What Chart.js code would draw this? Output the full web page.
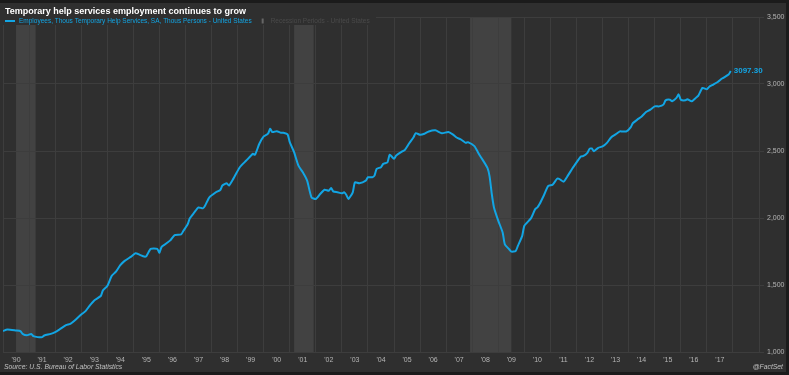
<!DOCTYPE html>
<html>
<head>
<meta charset="utf-8">
<script src="https://cdn.jsdelivr.net/npm/chart.js@4"></script>
<style>
  html, body { margin: 0; padding: 0; background: #1b1b1b; width: 789px; height: 375px; overflow: hidden; }
  #grafico { position: absolute; left: 0; top: 3px; background: #2f2f2f; }
</style>
</head>
<body>
<canvas id="grafico" width="786" height="369"></canvas>
<script>
const titulo = 'Temporary help services employment continues to grow';
const serieLabel = 'Employees, Thous Temporary Help Services, SA, Thous Persons - United States';
const recesionLabel = 'Recession Periods - United States';
const fuente = 'Source: U.S. Bureau of Labor Statistics';
const marca = '@FactSet';

const fechas = [
  '1990-01','1990-03','1990-07','1990-09','1990-10','1990-12','1991-02','1991-03','1991-05','1991-07','1991-08','1991-11',
  '1992-01','1992-03','1992-06','1992-08','1992-10','1993-01','1993-03','1993-05','1993-07','1993-10','1993-11',
  '1994-01','1994-03','1994-05','1994-07','1994-09','1994-12','1995-02','1995-04','1995-06','1995-07','1995-09','1995-12',
  '1996-01','1996-02','1996-04','1996-06','1996-08','1996-11','1996-12','1997-02','1997-03','1997-05','1997-07','1997-09','1997-10','1997-12',
  '1998-03','1998-05','1998-06','1998-08','1998-09','1998-11','1999-02','1999-05','1999-08','1999-09','1999-11',
  '2000-01','2000-03','2000-04','2000-05','2000-07','2000-09','2000-10','2000-12','2001-01','2001-03','2001-05','2001-07','2001-09','2001-11',
  '2002-01','2002-03','2002-05','2002-07','2002-08','2002-09','2002-11','2003-01','2003-02','2003-03','2003-04','2003-06','2003-07','2003-09','2003-12',
  '2004-01','2004-03','2004-04','2004-05','2004-07','2004-08','2004-10','2004-11','2005-01','2005-02','2005-05','2005-06','2005-08','2005-10','2005-11',
  '2006-01','2006-03','2006-05','2006-08','2006-11','2007-02','2007-04','2007-06','2007-08','2007-10','2007-11',
  '2008-02','2008-04','2008-05','2008-08','2008-09','2008-10','2008-11','2009-01','2009-03','2009-04','2009-06','2009-07','2009-09','2009-10','2009-12',
  '2010-01','2010-04','2010-06','2010-07','2010-08','2010-10','2010-12','2011-02','2011-04','2011-05','2011-07','2011-09','2011-11','2011-12',
  '2012-03','2012-04','2012-06','2012-07','2012-08','2012-09','2012-11','2013-01','2013-03','2013-05','2013-07','2013-09','2013-10','2013-12',
  '2014-02','2014-03','2014-05','2014-07','2014-09','2014-11','2015-01','2015-03','2015-05','2015-06','2015-08','2015-09','2015-11','2015-12',
  '2016-01','2016-03','2016-04','2016-06','2016-08','2016-09','2016-11','2017-01','2017-02','2017-04','2017-06','2017-08','2017-11','2017-12'
];
const valores = [
  1156,1168,1161,1156,1135,1125,1135,1118,1111,1111,1123,1135,
  1148,1168,1200,1210,1235,1280,1305,1348,1385,1418,1460,
  1492,1567,1600,1648,1680,1712,1737,1725,1712,1716,1770,1770,
  1740,1785,1808,1833,1873,1878,1903,1953,1998,2040,2079,2072,2092,2154,
  2192,2209,2242,2259,2242,2292,2379,2429,2479,2472,2554,
  2609,2629,2666,2641,2648,2636,2636,2624,2566,2491,2391,2341,2279,2154,
  2142,2179,2211,2204,2224,2199,2192,2184,2192,2174,2142,2192,2266,2259,2279,
  2304,2304,2316,2367,2379,2404,2416,2472,2442,2466,2499,2509,2558,2603,2633,
  2621,2629,2646,2654,2633,2641,2624,2599,2584,2561,2566,
  2536,2479,2454,2374,2309,2179,2079,1979,1892,1804,1767,1749,1754,1792,1867,
  1942,1997,2067,2079,2104,2170,2239,2248,2292,2292,2271,2316,2367,2391,
  2459,2461,2486,2516,2519,2499,2524,2534,2561,2603,2624,2646,2646,2646,
  2679,2709,2734,2758,2791,2809,2833,2833,2846,2878,2883,2871,2896,2923,
  2883,2878,2886,2871,2898,2911,2971,2961,2978,2996,3015,3041,3071,3097.30
];
const recesionInicio = ['1990-07', '2001-03', '2007-12'];
const recesionFin = ['1991-03', '2001-11', '2009-06'];
const ticksY = [1000, 1500, 2000, 2500, 3000, 3500];

const azul = '#12a5e4';
const fuenteTxt = 'Arial, "Liberation Sans", sans-serif';

// '1990-07' -> 1990.5
const aAnio = (s) => parseInt(s.slice(0, 4)) + (parseInt(s.slice(5, 7)) - 1) / 12;

const puntos = fechas.map((f, i) => ({ x: aAnio(f), y: valores[i] }));

const bandas = {
  id: 'bandas',
  beforeDraw(chart) {
    const { ctx, chartArea, scales } = chart;
    ctx.save();
    ctx.fillStyle = 'rgba(255,255,255,0.09)';
    for (let i = 0; i < recesionInicio.length; i++) {
      const x1 = scales.x.getPixelForValue(aAnio(recesionInicio[i]));
      const x2 = scales.x.getPixelForValue(aAnio(recesionFin[i]) + 1 / 12);
      ctx.fillRect(x1, chartArea.top, x2 - x1, chartArea.bottom - chartArea.top);
    }
    ctx.restore();
  }
};

const textos = {
  id: 'textos',
  afterDraw(chart) {
    const { ctx, scales } = chart;
    ctx.save();
    // caja del titulo y leyenda
    ctx.fillStyle = '#2f2f2f';
    ctx.fillRect(0, 0, 376, 22);
    ctx.textBaseline = 'middle';
    ctx.fillStyle = '#ffffff';
    ctx.font = 'bold 9px ' + fuenteTxt;
    ctx.fillText(titulo, 5, 9);

    ctx.strokeStyle = azul;
    ctx.lineWidth = 2;
    ctx.beginPath();
    ctx.moveTo(5, 18);
    ctx.lineTo(15, 18);
    ctx.stroke();
    ctx.font = '6.5px ' + fuenteTxt;
    ctx.fillStyle = azul;
    ctx.fillText(serieLabel, 19, 18.5);
    const w = ctx.measureText(serieLabel).width;
    ctx.fillStyle = '#666666';
    ctx.fillRect(19 + w + 10, 15.5, 2, 5);
    ctx.fillStyle = '#4a4a4a';
    ctx.fillText(recesionLabel, 19 + w + 19, 18.5);

    // valor final
    const ult = puntos[puntos.length - 1];
    ctx.fillStyle = azul;
    ctx.font = 'bold 8px ' + fuenteTxt;
    ctx.fillText(ult.y.toFixed(2), scales.x.getPixelForValue(ult.x) + 3, scales.y.getPixelForValue(ult.y));

    ctx.fillStyle = '#c0c0c0';
    ctx.font = 'italic 6.8px ' + fuenteTxt;
    ctx.fillText(fuente, 4, 364);
    ctx.textAlign = 'right';
    ctx.fillText(marca, 783, 364);
    ctx.restore();
  }
};

new Chart(document.getElementById('grafico'), {
  type: 'line',
  data: {
    datasets: [{
      label: serieLabel,
      data: puntos,
      borderColor: azul,
      borderWidth: 2,
      pointRadius: 0,
      tension: 0.2,
      fill: false
    }]
  },
  options: {
    responsive: false,
    animation: false,
    layout: { padding: { top: 14, left: 3, right: 0, bottom: 0 } },
    plugins: { legend: { display: false }, title: { display: false }, tooltip: { enabled: false } },
    scales: {
      x: {
        type: 'linear',
        min: 1990,
        max: 2019,
        afterBuildTicks: (s) => { s.ticks = []; for (let a = 1990; a <= 2019; a++) s.ticks.push({ value: a }); },
        afterFit: (s) => { s.height = 20; s.paddingLeft = 0; s.paddingRight = 0; },
        grid: { color: '#3d3d3d', drawTicks: false },
        border: { display: false },
        ticks: {
          color: '#b4b4b4',
          font: { family: fuenteTxt, size: 7 },
          padding: 4,
          labelOffset: 13,
          maxRotation: 0,
          autoSkip: false,
          callback: (v) => v <= 2017 ? "'" + String(v).slice(2) : ''
        }
      },
      y: {
        position: 'right',
        min: 1000,
        max: 3500,
        afterBuildTicks: (s) => { s.ticks = ticksY.map(v => ({ value: v })); },
        afterFit: (s) => { s.width = 27; s.paddingTop = 0; s.paddingBottom = 0; },
        grid: { color: '#3d3d3d', tickLength: 5 },
        border: { display: false },
        ticks: {
          color: '#b4b4b4',
          font: { family: fuenteTxt, size: 7 },
          padding: 3,
          callback: (v) => v.toLocaleString('en-US')
        }
      }
    }
  },
  plugins: [bandas, textos]
});
</script>
</body>
</html>
